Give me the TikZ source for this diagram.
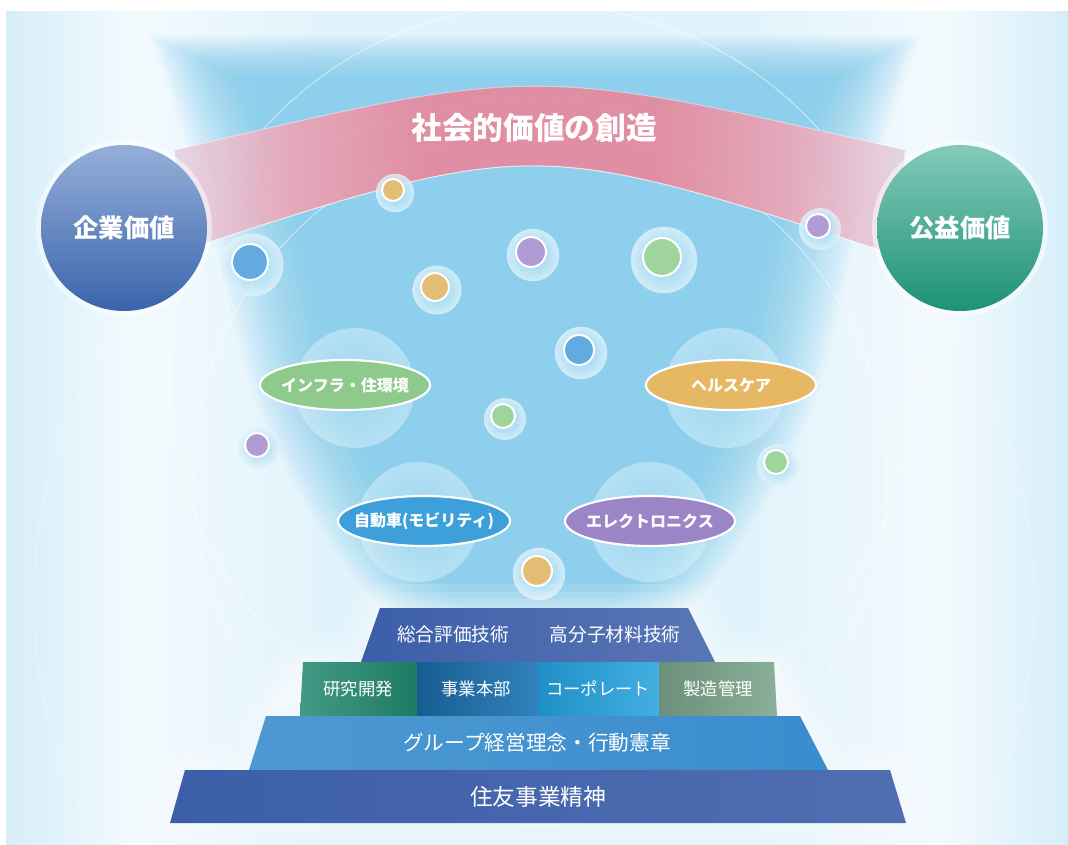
\documentclass[tikz,border=0pt]{standalone}
\usepackage{fontspec}
\setmainfont{Noto Sans CJK JP}
\usetikzlibrary{calc}

\definecolor{skybg}{HTML}{E1F3FB}
\definecolor{skyedge}{HTML}{D6EEF9}
\definecolor{skywhite}{HTML}{F3FAFE}
\definecolor{funnel}{HTML}{6FC6EC}
\definecolor{archpink}{HTML}{E8899E}
\definecolor{archmid}{HTML}{EBA6B8}
\definecolor{archpale}{HTML}{E4D3E2}
\definecolor{corpblue}{HTML}{3F6DBA}
\definecolor{pubgreen}{HTML}{1F9E80}
\definecolor{ballorange}{HTML}{E4BD74}
\definecolor{ballblue}{HTML}{62AAE0}
\definecolor{ballpurple}{HTML}{B19BD5}
\definecolor{ballgreen}{HTML}{9FD49D}
\definecolor{pillgreen}{HTML}{8DCA8B}
\definecolor{pillorange}{HTML}{E7B864}
\definecolor{pillblue}{HTML}{3EA0DB}
\definecolor{pillpurple}{HTML}{9B85C6}
\definecolor{tiernavy}{HTML}{3C5EA9}
\definecolor{tierblue}{HTML}{3A8DCD}
\definecolor{cellteal}{HTML}{22886F}
\definecolor{cellblue}{HTML}{1C74B5}
\definecolor{cellsky}{HTML}{22A0DB}
\definecolor{cellsage}{HTML}{7EA88F}

\pgfdeclarehorizontalshading{skyside}{100bp}{color(0bp)=(skyedge); color(25bp)=(skyedge); color(31bp)=(skywhite); color(40bp)=(skybg); color(60bp)=(skybg); color(69bp)=(skywhite); color(75bp)=(skyedge); color(100bp)=(skyedge)}
\pgfdeclarehorizontalshading{archfade}{100bp}{color(0bp)=(archpale); color(25bp)=(archpale); color(33bp)=(archmid); color(42bp)=(archpink); color(58bp)=(archpink); color(67bp)=(archmid); color(75bp)=(archpale); color(100bp)=(archpale)}

\begin{document}
\begin{tikzpicture}[x=0.75pt,y=-0.75pt,
    biglabel/.style={text=white,font=\bfseries\fontsize{19pt}{19pt}\selectfont},
    pilllabel/.style={text=white,font=\bfseries\fontsize{12pt}{12pt}\selectfont},
    celllabel/.style={text=white,font=\fontsize{13pt}{13pt}\selectfont},
    tierlabel/.style={text=white,font=\fontsize{14pt}{14pt}\selectfont},
    pill/.style={draw=white,line width=1.6pt}]
    \useasboundingbox (0,0) rectangle (1068,845);
    \fill[white] (0,0) rectangle (1068,845);
    \shade[shading=skyside] (6,12) rectangle (1068,845);

    % soft funnel of light
    \foreach \d in {0,4,...,84}{
        \fill[funnel,opacity=0.05] plot[smooth] coordinates {(150+\d,36+\d/2) (205+\d,200) (255+\d,400) (330+\d,545) (385+\d,612)}
            -- plot[smooth] coordinates {(685-\d,612) (740-\d,545) (815-\d,400) (865-\d,200) (920-\d,36+\d/2)} -- cycle;
    }
    \draw[white,opacity=0.5,line width=0.8pt] (541,377) circle[radius=372*0.75pt];
    \draw[white,opacity=0.45,line width=0.8pt] (540,478) circle[radius=347*0.75pt];
    \draw[white,opacity=0.3,line width=0.8pt] (534,600) circle[radius=500*0.75pt];

    % large glassy spheres behind the fields
    \foreach \x/\y in {355/388,725/388,418/522,650/522}{
        \shade[inner color=funnel!55!white,outer color=white!75!funnel,opacity=0.5] (\x,\y) circle[radius=60*0.75pt];
    }

    % arch
    \shade[shading=archfade,opacity=0.92] (175,150) .. controls (534,65) .. (905,150) -- (895,255) .. controls (534,137) .. (185,250) -- cycle;
    \draw[white,opacity=0.7,line width=0.8pt] (185,250) .. controls (534,137) .. (895,255);
    \draw[white,opacity=0.4,line width=0.8pt] (175,150) .. controls (534,65) .. (905,150);
    \node[text=white,font=\bfseries\fontsize{23pt}{23pt}\selectfont] (arch) at (534,128) {社会的価値の創造};

    % small bubbles
    \foreach \x/\y/\r/\c in {393/190/11/ballorange,250/262/18/ballblue,435/287/14/ballorange,531/252/15/ballpurple,
        662/257/19/ballgreen,818/226/12/ballpurple,579/350/15/ballblue,503/416/12/ballgreen,
        257/445/12/ballpurple,776/462/12/ballgreen,537/571/15/ballorange}{
        \shade[inner color=funnel!80!white,outer color=white!80!funnel,opacity=0.8] (\x+2,\y+3) circle[radius=1.75*\r*0.75pt];
        \filldraw[draw=white,line width=1.5pt,fill=\c] (\x,\y) circle[radius=\r*0.75pt];
    }

    % value circles
    \fill[white,opacity=0.5] (124,228) circle[radius=88*0.75pt];
    \shade[top color=corpblue!55!white,middle color=corpblue!95!white,bottom color=corpblue!92!black] (124,228) circle[radius=83*0.75pt];
    \node[biglabel] (corp) at (124,228) {企業価値};
    \fill[white,opacity=0.5] (960,228) circle[radius=88*0.75pt];
    \shade[top color=pubgreen!55!white,middle color=pubgreen!95!white,bottom color=pubgreen!92!black] (960,228) circle[radius=83*0.75pt];
    \node[biglabel] (public) at (960,228) {公益価値};

    % business fields
    \filldraw[pill,fill=pillgreen] (345,385) ellipse[x radius=85*0.75pt,y radius=25*0.75pt];
    \node[pilllabel] (infra) at (345,385) {インフラ・住環境};
    \filldraw[pill,fill=pillorange] (731,385) ellipse[x radius=85*0.75pt,y radius=25*0.75pt];
    \node[pilllabel] (health) at (731,385) {ヘルスケア};
    \filldraw[pill,fill=pillblue] (424,521) ellipse[x radius=86*0.75pt,y radius=25*0.75pt];
    \node[pilllabel] (auto) at (424,521) {自動車(モビリティ)};
    \filldraw[pill,fill=pillpurple] (650,521) ellipse[x radius=85*0.75pt,y radius=25*0.75pt];
    \node[pilllabel] (elec) at (650,521) {エレクトロニクス};

    % glow round the base
    \foreach \w in {36,24,14,6}{
        \filldraw[white,opacity=0.14,line width=\w pt,line join=round] (380,608) -- (688,608) -- (715,662) -- (777,662) -- (800,716)
            -- (828,770) -- (890,770) -- (906,823) -- (170,823) -- (185,770) -- (249,770) -- (266,716) -- (300,662) -- (361,662) -- cycle;
    }

    % pyramid
    \shade[left color=tiernavy,right color=tiernavy!85!white] (380,608) -- (688,608) -- (715,662) -- (361,662) -- cycle;
    \node[tierlabel] (tech1) at (453,634) {総合評価技術};
    \node[tierlabel] (tech2) at (615,634) {高分子材料技術};
    \shade[left color=cellteal!85!white,right color=cellteal!90!black] (303,662) -- (417,662) -- (417,716) -- (300,716) -- cycle;
    \shade[left color=cellblue!80!black,right color=cellblue!90!white] (417,662) -- (538,662) -- (538,716) -- (417,716) -- cycle;
    \shade[left color=cellsky!90!black,right color=cellsky!85!white] (538,662) -- (659,662) -- (659,716) -- (538,716) -- cycle;
    \shade[left color=cellsage!85!black,right color=cellsage!90!white] (659,662) -- (774,662) -- (777,716) -- (659,716) -- cycle;
    \node[celllabel] (lab) at (358,689) {研究開発};
    \node[celllabel] (division) at (476,689) {事業本部};
    \node[celllabel] (corporate) at (598,689) {コーポレート};
    \node[celllabel] (plant) at (718,689) {製造管理};
    \shade[left color=tierblue!90!white,right color=tierblue] (266,716) -- (800,716) -- (828,770) -- (249,770) -- cycle;
    \node[tierlabel,font=\fontsize{15.5pt}{15.5pt}\selectfont] (creed) at (537,743) {グループ経営理念・行動憲章};
    \shade[left color=tiernavy,right color=tiernavy!90!white] (185,770) -- (890,770) -- (906,823) -- (170,823) -- cycle;
    \node[tierlabel,font=\fontsize{17pt}{17pt}\selectfont] (spirit) at (538,797) {住友事業精神};
\end{tikzpicture}
\end{document}
